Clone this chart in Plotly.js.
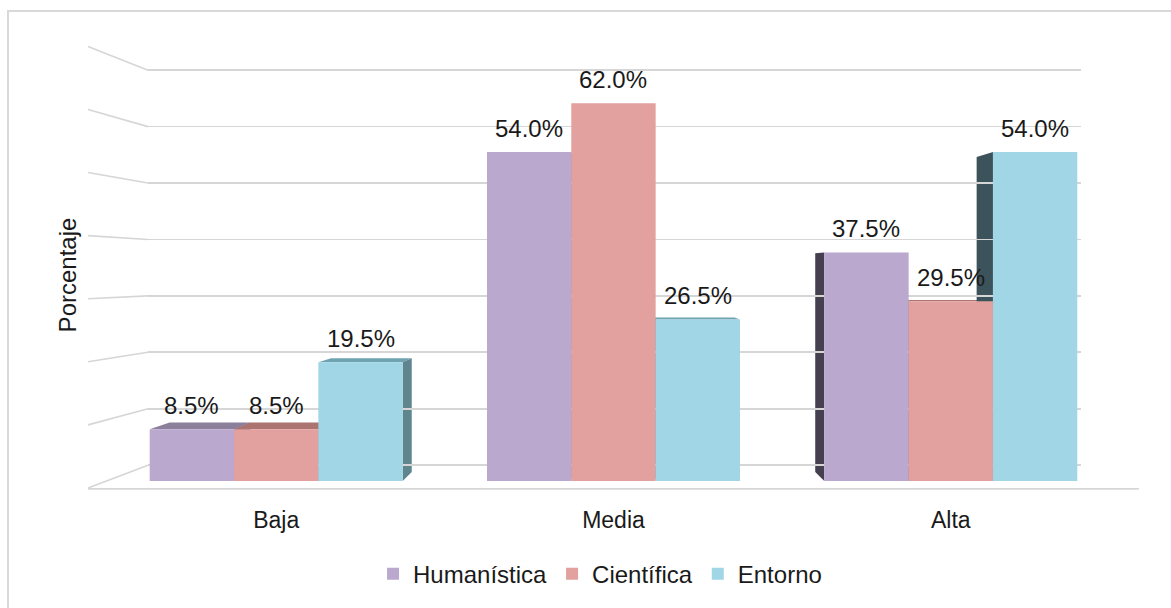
<!DOCTYPE html>
<html>
<head>
<meta charset="utf-8">
<script src="https://cdn.plot.ly/plotly-3.0.1.min.js"></script>
<style>
  html, body { margin: 0; padding: 0; background: #ffffff; overflow: hidden; }
  #chart { width: 1171px; height: 608px; position: absolute; left: 0; top: 0; }
  #frame { position: absolute; left: 7px; top: 10px; width: 1300px; height: 800px;
           border: 2px solid #d9d9d9; pointer-events: none; }
</style>
</head>
<body>
<div id="chart"></div>
<div id="frame"></div>
<script>
// ---- data ----
const categories = ["Baja", "Media", "Alta"];
const seriesNames = ["Humanística", "Científica", "Entorno"];
const humanistica = [8.5, 54.0, 37.5];
const cientifica = [8.5, 62.0, 29.5];
const entorno = [19.5, 26.5, 54.0];
const seriesValues = [humanistica, cientifica, entorno];

// ---- styles ----
const frontColors = ["#bba8cf", "#e2a09e", "#a0d6e6"];
const topColors   = ["#8c7f9c", "#ab7471", "#6ea3b2"];
const rightColors = ["#6f6580", "#8e5e5c", "#5f858e"];
const leftColors  = ["#463f4f", "#5a3a39", "#3d535b"];
const FONT = "Liberation Sans, Arial, sans-serif";
const TEXT = "#1a1a1a";

const yRange = [0, 67.6];
const xRange = [-0.38, 2.386];
const barGap = 0.25;
const barW = (1 - barGap) / seriesNames.length;

// back-wall gridlines (perspective projected)
const gridBase = 2.6, gridStep = 9.258, gridCount = 8;
const gridVals = [];
for (let k = 0; k < gridCount; k++) gridVals.push(+(gridBase + gridStep * k).toFixed(3));

const traces = seriesNames.map((name, j) => ({
  type: "bar",
  name: name,
  x: categories,
  y: seriesValues[j],
  marker: { color: frontColors[j], line: { width: 0 } },
  hoverinfo: "x+y+name"
}));

// ---- pseudo-3D faces (perspective toward a vanishing point) ----
const VP = { x: 1, y: 34.1 };
const kDepth = 0.043;
const back = (x, y) => [x + kDepth * (VP.x - x), y + kDepth * (VP.y - y)];
const shapes = [];
function poly(pts, color) {
  const d = "M" + pts.map(p => p[0].toFixed(4) + "," + p[1].toFixed(4)).join("L") + "Z";
  shapes.push({ type: "path", xref: "x", yref: "y", path: d, fillcolor: color,
                line: { width: 0 }, layer: "below" });
}
seriesValues.forEach((vals, j) => {
  vals.forEach((v, i) => {
    const x0 = i + (j - (seriesNames.length - 1) / 2) * barW - barW / 2;
    const x1 = x0 + barW;
    if (v < VP.y) {
      poly([[x0, v], [x1, v], back(x1, v), back(x0, v)], topColors[j]);
    }
    if (x1 < VP.x) {
      poly([[x1, 0], [x1, v], back(x1, v), back(x1, 0)], rightColors[j]);
    }
    if (x0 > VP.x) {
      poly([[x0, 0], [x0, v], back(x0, v), back(x0, 0)], leftColors[j]);
    }
  });
});

// side-wall stubs of the gridlines and the floor edge
const stubX = -0.0643;
const toPaper = v => (v - yRange[0]) / (yRange[1] - yRange[0]);
gridVals.forEach((g, k) => {
  const leftV = -1.14 + 10.35 * k;
  shapes.push({ type: "line", xref: "paper", yref: "paper",
    x0: stubX, y0: toPaper(leftV), x1: 0, y1: toPaper(g),
    line: { color: "#d6d6d6", width: 1.6 }, layer: "below" });
});
shapes.push({ type: "line", xref: "paper", yref: "paper",
  x0: stubX, y0: toPaper(-1.3), x1: 1.062, y1: toPaper(-1.3),
  line: { color: "#d6d6d6", width: 1.8 }, layer: "below" });

// ---- data labels ----
const annotations = [];
seriesValues.forEach((vals, j) => {
  vals.forEach((v, i) => {
    annotations.push({
      x: i + (j - (seriesNames.length - 1) / 2) * barW,
      y: v, xref: "x", yref: "y",
      text: v.toFixed(1) + "%",
      showarrow: false, yanchor: "bottom", yshift: 8,
      font: { family: FONT, size: 24, color: TEXT }
    });
  });
});

const layout = {
  width: 1171, height: 608,
  margin: { l: 148, r: 90, t: 69, b: 123 },
  paper_bgcolor: "rgba(0,0,0,0)",
  plot_bgcolor: "rgba(0,0,0,0)",
  barmode: "group",
  bargap: barGap,
  bargroupgap: 0,
  showlegend: true,
  legend: {
    orientation: "h", x: 0.4845, xanchor: "center", y: -0.226, yanchor: "middle",
    font: { family: FONT, size: 24, color: TEXT },
    traceorder: "normal"
  },
  xaxis: {
    type: "category",
    range: xRange,
    showgrid: false, zeroline: false, showline: false, ticks: "",
    ticklabelstandoff: 23,
    tickfont: { family: FONT, size: 23, color: TEXT },
    fixedrange: true
  },
  yaxis: {
    range: yRange,
    tickmode: "array",
    tickvals: gridVals,
    showticklabels: false,
    showgrid: true, gridcolor: "#d6d6d6", gridwidth: 1.6,
    zeroline: false, showline: false, ticks: "",
    title: { text: "Porcentaje", standoff: 63, font: { family: FONT, size: 24, color: TEXT } },
    automargin: false,
    fixedrange: true
  },
  shapes: shapes,
  annotations: annotations
};

Plotly.newPlot("chart", traces, layout, { displayModeBar: false, staticPlot: true });
</script>
</body>
</html>
